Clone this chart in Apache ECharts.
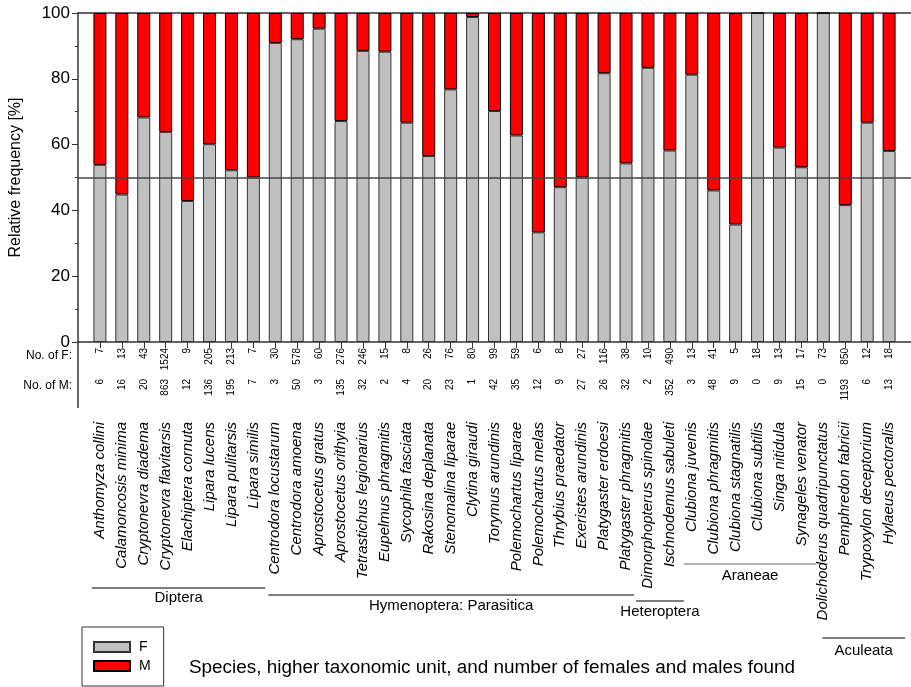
<!DOCTYPE html>
<html>
<head>
<meta charset="utf-8">
<script src="https://cdn.jsdelivr.net/npm/echarts@6/dist/echarts.min.js"></script>
<style>
  html, body { margin: 0; padding: 0; background: #fff; }
  #chart { width: 911px; height: 687px; }
</style>
</head>
<body>
<div id="chart"></div>
<script>
// Species, in plotting order
const species = [
  'Anthomyza collini', 'Calamoncosis minima', 'Cryptonevra diadema', 'Cryptonevra flavitarsis',
  'Elachiptera cornuta', 'Lipara lucens', 'Lipara pulitarsis', 'Lipara similis',
  'Centrodora locustarum', 'Centrodora amoena', 'Aprostocetus gratus', 'Aprostocetus orithyia',
  'Tetrastichus legionarius', 'Eupelmus phragmitis', 'Sycophila fasciata', 'Rakosina deplanata',
  'Stenomalina liparae', 'Clytina giraudi', 'Torymus arundinis', 'Polemochartus liparae',
  'Polemochartus melas', 'Thrybius praedator', 'Exeristes arundinis', 'Platygaster erdoesi',
  'Platygaster phragmitis', 'Dimorphopterus spinolae', 'Ischnodemus sabuleti', 'Clubiona juvenis',
  'Clubiona phragmitis', 'Clubiona stagnatilis', 'Clubiona subtilis', 'Singa nitidula',
  'Synageles venator', 'Dolichoderus quadripunctatus', 'Pemphredon fabricii',
  'Trypoxylon deceptorium', 'Hylaeus pectoralis'
];

// Number of females and males found per species
const femaleCounts = [7, 13, 43, 1524, 9, 205, 213, 7, 30, 578, 60, 276, 246, 15, 8, 26, 76, 80, 99,
  59, 6, 8, 27, 116, 38, 10, 490, 13, 41, 5, 18, 13, 17, 73, 850, 12, 18];
const maleCounts = [6, 16, 20, 863, 12, 136, 195, 7, 3, 50, 3, 135, 32, 2, 4, 20, 23, 1, 42,
  35, 12, 9, 27, 26, 32, 2, 352, 3, 48, 9, 0, 9, 15, 0, 1193, 6, 13];

// Higher taxonomic units: name, first and last species index (0-based)
const groupNames = ['Diptera', 'Hymenoptera: Parasitica', 'Heteroptera', 'Araneae', 'Aculeata'];
const groupFirst = [0, 8, 25, 27, 33];
const groupLast = [7, 24, 26, 32, 36];

const yTicks = [0, 20, 40, 60, 80, 100];
const referenceLevel = 50;

// Relative frequency of each sex in percent
const femalePct = femaleCounts.map((f, i) => f / (f + maleCounts[i]) * 100);
const malePct = femalePct.map(p => 100 - p);

// One empty slot at each end of the category axis
const cats = [''].concat(species, ['']);
const padSeries = arr => ['-'].concat(arr, ['-']);

const FONT = 'Arial, "Liberation Sans", sans-serif';
const LINE = '#333';

const chart = echarts.init(document.getElementById('chart'), null, { renderer: 'canvas' });

const countAxis = (values, margin) => ({
  type: 'category', data: cats, boundaryGap: false, position: 'bottom', offset: 0,
  axisLine: { show: false }, axisTick: { show: false }, splitLine: { show: false },
  axisLabel: {
    interval: 0, rotate: 90, margin: margin, fontSize: 10, fontFamily: FONT, color: '#000',
    formatter: (v, i) => (i >= 1 && i <= values.length) ? String(values[i - 1]) : ''
  }
});

const option = {
  backgroundColor: '#fff',
  animation: false,
  textStyle: { fontFamily: FONT },
  grid: { left: 74, right: 0, top: 13, bottom: 345, containLabel: false },
  legend: {
    data: ['F', 'M'], orient: 'vertical', left: 82, bottom: 1,
    padding: [13, 13, 13, 11], itemGap: 5, itemWidth: 36, itemHeight: 10,
    borderColor: LINE, borderWidth: 1, icon: 'rect',
    textStyle: { fontSize: 14, fontFamily: FONT, color: '#000', lineHeight: 14, padding: [0, 0, 0, 4] }
  },
  xAxis: [
    {
      type: 'category', data: cats, boundaryGap: false, position: 'bottom', offset: 66,
      axisLine: { show: true, lineStyle: { color: LINE, width: 1.5 } },
      axisTick: { show: true, length: 6, interval: (i, v) => v !== '', lineStyle: { color: LINE } },
      splitLine: { show: false },
      axisLabel: {
        interval: 0, rotate: 90, margin: 14, fontSize: 15, fontStyle: 'italic',
        fontFamily: FONT, color: '#000'
      }
    },
    countAxis(femaleCounts, 6),
    countAxis(maleCounts, 37),
    {
      type: 'category', data: cats, boundaryGap: false, position: 'top',
      axisLine: { show: true, lineStyle: { color: LINE, width: 1.5 } },
      axisTick: { show: false }, axisLabel: { show: false }, splitLine: { show: false }
    }
  ],
  yAxis: {
    type: 'value', min: 0, max: 100, interval: 20,
    axisLine: { show: true, lineStyle: { color: LINE, width: 1.5 } },
    axisTick: { show: true, length: 6, lineStyle: { color: LINE } },
    minorTick: { show: true, splitNumber: 2, length: 3, lineStyle: { color: LINE } },
    splitLine: { show: false },
    axisLabel: {
      margin: 8, fontSize: 17, fontFamily: FONT, color: '#000',
      formatter: v => yTicks.indexOf(v) >= 0 ? String(v) : ''
    },
    name: 'Relative frequency [%]', nameLocation: 'middle', nameGap: 54,
    nameTextStyle: { fontSize: 16, fontFamily: FONT, color: '#000' }
  },
  series: [
    {
      name: 'F', type: 'bar', stack: 'sex', barWidth: 13, data: padSeries(femalePct),
      itemStyle: { color: '#c0c0c0', borderColor: '#333', borderWidth: 1 },
      markLine: {
        silent: true, symbol: 'none', label: { show: false },
        lineStyle: { color: '#444', width: 1.5, type: 'solid' },
        data: [{ yAxis: referenceLevel }]
      }
    },
    {
      name: 'M', type: 'bar', stack: 'sex', barWidth: 13, data: padSeries(malePct),
      itemStyle: { color: '#ff0000', borderColor: '#000', borderWidth: 1 }
    }
  ]
};

chart.setOption(option);

// Table frame, row captions, taxonomic groups and footer text
function drawAnnotations() {
  const px = i => chart.convertToPixel({ xAxisIndex: 0 }, i + 1);
  const y0 = chart.convertToPixel({ yAxisIndex: 0 }, 0);
  const tableBottom = y0 + 66;
  const left = px(-1);

  const groupLayout = [
    { y: 588, padL: 8, padR: 12, ty: 598, color: '#000' },
    { y: 595, padL: 7, padR: 8, ty: 606, color: '#000' },
    { y: 601, padL: 12, padR: 14, ty: 612, color: '#000' },
    { y: 564, padL: 8, padR: 15, ty: 576, color: '#666' },
    { y: 638, padL: 1, padR: 16, ty: 651, color: '#000' }
  ];

  const elements = [
    { type: 'line', shape: { x1: left, y1: y0, x2: left, y2: tableBottom },
      style: { stroke: LINE, lineWidth: 1.5 } },
    { type: 'text', x: left - 6, y: y0 + 14,
      style: { text: 'No. of F:', font: '12px ' + FONT, fill: '#000', align: 'right', verticalAlign: 'middle' } },
    { type: 'text', x: left - 6, y: y0 + 44,
      style: { text: 'No. of M:', font: '12px ' + FONT, fill: '#000', align: 'right', verticalAlign: 'middle' } },
    { type: 'text', x: 189, y: 668,
      style: { text: 'Species, higher taxonomic unit, and number of females and males found',
        font: '18.9px ' + FONT, fill: '#000', align: 'left', verticalAlign: 'middle' } }
  ];

  groupNames.forEach((name, g) => {
    const L = groupLayout[g];
    const x1 = px(groupFirst[g]) - L.padL;
    const x2 = px(groupLast[g]) + L.padR;
    elements.push({ type: 'line', shape: { x1: x1, y1: L.y, x2: x2, y2: L.y },
      style: { stroke: L.color, lineWidth: 1.2 } });
    elements.push({ type: 'text', x: (x1 + x2) / 2, y: L.ty,
      style: { text: name, font: '15px ' + FONT, fill: '#000', align: 'center', verticalAlign: 'middle' } });
  });

  chart.setOption({ graphic: { elements: elements } });
}
drawAnnotations();
</script>
</body>
</html>
